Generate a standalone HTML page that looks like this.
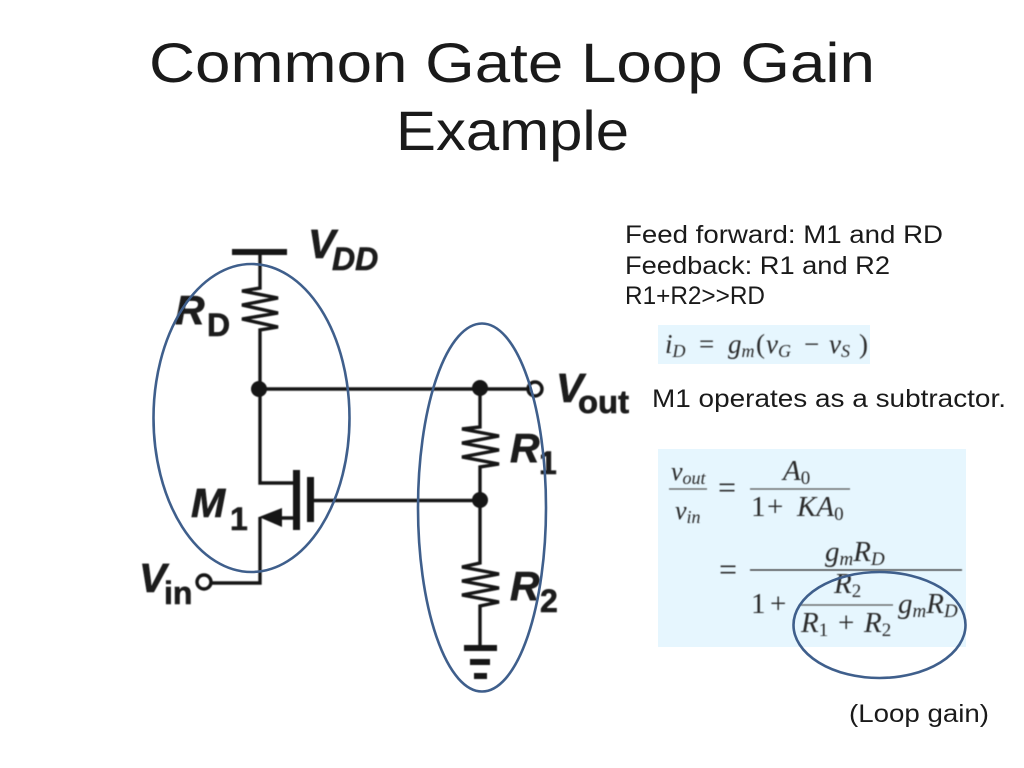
<!DOCTYPE html>
<html><head><meta charset="utf-8"><style>
html,body{margin:0;padding:0;background:#fff;width:1024px;height:768px;overflow:hidden}
svg{display:block}
.t{font-family:"Liberation Sans",sans-serif;fill:#1a1a1a}
.l{font-family:"Liberation Sans",sans-serif;font-weight:bold;fill:#1a1a1a;stroke:#1a1a1a;stroke-width:.6}
.i{font-style:italic}
.m{font-family:"Liberation Serif",serif;fill:#2a2a2a}
.mi{font-family:"Liberation Serif",serif;font-style:italic;fill:#2a2a2a}
</style></head><body>
<svg width="1024" height="768" viewBox="0 0 1024 768" xmlns="http://www.w3.org/2000/svg">
<defs><filter id="b" x="-5%" y="-5%" width="110%" height="110%"><feGaussianBlur stdDeviation="0.5"/></filter></defs>
<rect width="1024" height="768" fill="#fff"/>
<text class="t" x="149" y="82" font-size="56" textLength="726" lengthAdjust="spacingAndGlyphs">Common Gate Loop Gain</text>
<text class="t" x="396" y="150" font-size="56" textLength="233" lengthAdjust="spacingAndGlyphs">Example</text>

<text class="t" x="625" y="243" font-size="25" textLength="318" lengthAdjust="spacingAndGlyphs">Feed forward: M1 and RD</text>
<text class="t" x="625" y="274" font-size="25" textLength="265" lengthAdjust="spacingAndGlyphs">Feedback: R1 and R2</text>
<text class="t" x="625" y="304" font-size="25" textLength="140" lengthAdjust="spacingAndGlyphs">R1+R2&gt;&gt;RD</text>
<text class="t" x="652" y="407" font-size="25" textLength="354" lengthAdjust="spacingAndGlyphs">M1 operates as a subtractor.</text>
<text class="t" x="849" y="722" font-size="25" textLength="140" lengthAdjust="spacingAndGlyphs">(Loop gain)</text>

<rect x="658" y="325" width="212" height="39" fill="#e6f6fe"/>
<rect x="658" y="449" width="308" height="198" fill="#e6f6fe"/>

<g filter="url(#b)">
<g stroke="#151515" fill="none" stroke-width="3.4">
<path d="M260 252V288L242 291L278 298L242 305L278 313L242 319L278 327L260 330V483H295"/>
<path d="M296 518H275M260 517V583H210"/>
<path d="M259 389H530"/>
<path d="M314 500.5H480"/>
<path d="M480 389V427L462 429L499 436L462 443L499 450L462 457L499 464L480 467V563L462 567L499 574L462 581L499 588L462 595L499 602L480 606V648"/>
<circle cx="204" cy="582" r="7"/>
<circle cx="535" cy="389" r="7"/>
</g>
<g fill="#151515">
<rect x="232" y="249" width="55" height="6"/>
<rect x="293" y="470" width="7" height="60"/>
<rect x="307" y="477" width="7" height="45"/>
<path d="M259 517L282 508V527Z"/>
<circle cx="259" cy="389" r="8"/>
<circle cx="480" cy="388" r="8"/>
<circle cx="480" cy="500" r="8"/>
<rect x="464" y="645" width="33" height="6"/>
<rect x="470" y="659" width="20" height="6"/>
<rect x="474" y="673" width="13" height="6"/>
</g>
<text class="l i" x="308" y="258" font-size="41">V</text>
<text class="l i" x="332" y="270" font-size="32">DD</text>
<text class="l i" x="175" y="324" font-size="41">R</text>
<text class="l" x="207" y="336" font-size="32">D</text>
<text class="l i" x="191" y="517" font-size="41">M</text>
<text class="l" x="230" y="530" font-size="32">1</text>
<text class="l i" x="139" y="592" font-size="41">V</text>
<text class="l" x="164" y="604" font-size="32">in</text>
<text class="l i" x="556" y="402" font-size="41">V</text>
<text class="l" x="578" y="413" font-size="32" textLength="51" lengthAdjust="spacingAndGlyphs">out</text>
<text class="l i" x="510" y="462" font-size="41">R</text>
<text class="l" x="539" y="474" font-size="32">1</text>
<text class="l i" x="510" y="600" font-size="41">R</text>
<text class="l" x="540" y="612" font-size="32">2</text>

<text class="mi" x="665" y="353" font-size="27">i<tspan font-size="18" dy="4">D</tspan></text>
<text class="m" x="699" y="353" font-size="27">=</text>
<text class="mi" x="728" y="353" font-size="27">g<tspan font-size="18" dy="4">m</tspan></text>
<text class="m" x="756" y="353" font-size="27">(</text>
<text class="mi" x="766" y="353" font-size="27">v<tspan font-size="18" dy="4">G</tspan></text>
<text class="m" x="804" y="353" font-size="27">−</text>
<text class="mi" x="829" y="353" font-size="27">v<tspan font-size="18" dy="4">S</tspan></text>
<text class="m" x="859" y="353" font-size="27">)</text>

<g stroke="#555" stroke-width="1.2">
<path d="M669 489H707M750 489H850M800 605H893"/>
</g>
<path d="M750 570H962" stroke="#222" stroke-width="1.2"/>
<text class="mi" x="671" y="480" font-size="26">v<tspan font-size="18" dy="4">out</tspan></text>
<text class="mi" x="675" y="519" font-size="26">v<tspan font-size="18" dy="4">in</tspan></text>
<text class="m" x="718" y="498" font-size="32">=</text>
<text class="mi" x="783" y="480" font-size="29">A<tspan class="m" font-style="normal" font-size="19" dy="4">0</tspan></text>
<text class="m" x="751" y="516" font-size="29">1</text>
<text class="m" x="767" y="516" font-size="29">+</text>
<text class="mi" x="797" y="516" font-size="29">KA<tspan font-style="normal" font-size="19" dy="4">0</tspan></text>
<text class="m" x="719" y="580" font-size="32">=</text>
<text class="mi" x="825" y="561" font-size="29">g<tspan font-size="19" dy="4">m</tspan><tspan font-size="29" dy="-4">R</tspan><tspan font-size="19" dy="4">D</tspan></text>
<text class="m" x="751" y="613" font-size="29">1</text>
<text class="m" x="770" y="613" font-size="29">+</text>
<text class="mi" x="834" y="593" font-size="29">R<tspan font-style="normal" font-size="19" dy="4">2</tspan></text>
<text class="mi" x="801" y="632" font-size="29">R<tspan font-style="normal" font-size="19" dy="4">1</tspan></text>
<text class="m" x="838" y="632" font-size="29">+</text>
<text class="mi" x="864" y="632" font-size="29">R<tspan font-style="normal" font-size="19" dy="4">2</tspan></text>
<text class="mi" x="898" y="613" font-size="29">g<tspan font-size="19" dy="4">m</tspan><tspan font-size="29" dy="-4">R</tspan><tspan font-size="19" dy="4">D</tspan></text>
</g>

<g fill="none" stroke="#3f5f8c" stroke-width="2.6">
<ellipse cx="251.5" cy="418" rx="98" ry="154"/>
<ellipse cx="482" cy="507.5" rx="64" ry="184"/>
<ellipse cx="879.5" cy="625" rx="86" ry="53"/>
</g>
</svg>
</body></html>
